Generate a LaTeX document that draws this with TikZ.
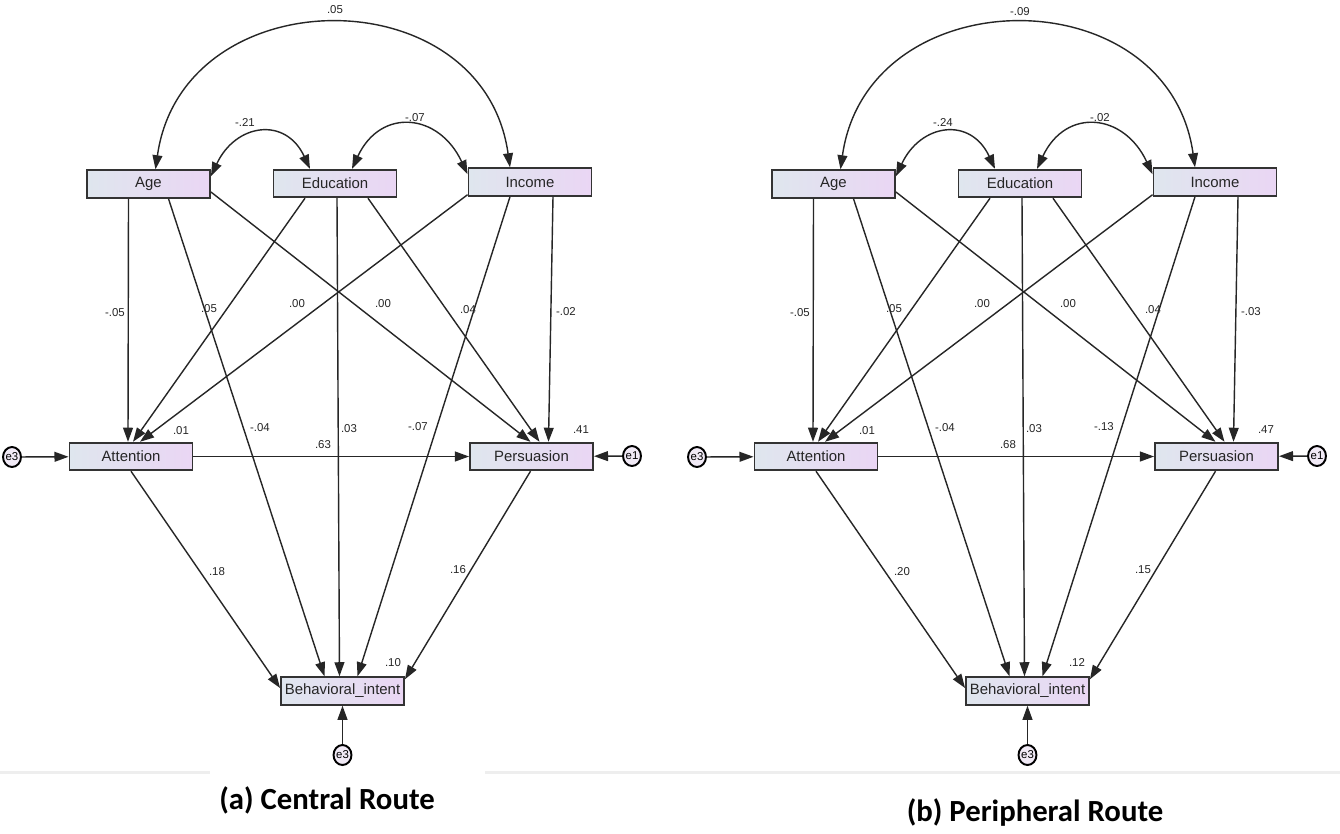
\documentclass[tikz,border=0pt]{standalone}
\usepackage{fontspec}
\setmainfont{Liberation Sans}
\newfontfamily\capfont{Carlito}
\usetikzlibrary{arrows.meta,shapes.geometric}
\definecolor{boxL}{HTML}{DFE6EE}
\definecolor{boxR}{HTML}{EAD6F4}
\definecolor{sepgray}{HTML}{EEEEEE}
\definecolor{errfill}{HTML}{F1EAF6}
\tikzset{
 var/.style={draw=black!80, line width=1.1pt, left color=boxL, right color=boxR,
   minimum width=2.46cm, minimum height=0.55cm, inner sep=0pt,
   font=\fontsize{8.5}{9}\selectfont, text=black!85},
 err/.style={ellipse, draw=black, line width=1.1pt, fill=errfill, minimum width=0.34cm,
   minimum height=0.4cm, inner sep=0pt, font=\fontsize{6.5}{7}\selectfont},
 arr/.style={line width=0.8pt, draw=black!85, -{Triangle[length=8pt,width=5.6pt]}},
 cov/.style={line width=0.8pt, draw=black!85,
   {Triangle[length=8pt,width=5.6pt]}-{Triangle[length=8pt,width=5.6pt]}},
 lbl/.style={font=\fontsize{6.5}{7}\selectfont, inner sep=0pt, text=black!85},
 captext/.style={font=\capfont\bfseries\fontsize{17.5}{20}\selectfont, inner sep=0pt},
}
\newcommand\semmodel[3]{% #1 prefix, #2 x offset, #3 name of right error
\begin{scope}[shift={(#2,0)}]
 \node[var] (#1-age) at (148.5,-184) {Age};
 \node[var] (#1-edu) at (335,-183.5) {Education};
 \node[var] (#1-inc) at (530,-182) {Income};
 \node[var] (#1-att) at (131,-456.5) {Attention};
 \node[var] (#1-per) at (531.5,-456.5) {Persuasion};
 \node[var] (#1-beh) at (342.5,-691) {Behavioral\_intent};
 \node[err] (#1-ea) at (12,-457) {e3};
 \node[err] (#1-eb) at (632,-456) {#3};
 \node[err] (#1-ec) at (342.5,-755) {e3};
 \draw[arr] ([shift={(-20,0)}]#1-age.south) -- ([shift={(-3,0)}]#1-att.north);
 \draw[arr] ([shift={(20,0)}]#1-age.south) -- ([shift={(-18,0)}]#1-beh.north);
 \draw[arr] ([shift={(0,-8)}]#1-age.east) -- ([shift={(-1,0)}]#1-per.north);
 \draw[arr] ([shift={(-30,0)}]#1-edu.south) -- ([shift={(2,0)}]#1-att.north);
 \draw[arr] ([shift={(2,0)}]#1-edu.south) -- ([shift={(-3,0)}]#1-beh.north);
 \draw[arr] ([shift={(33,0)}]#1-edu.south) -- ([shift={(8,0)}]#1-per.north);
 \draw[arr] ([shift={(0,2)}]#1-inc.south west) -- ([shift={(9,0)}]#1-att.north);
 \draw[arr] ([shift={(-20,0)}]#1-inc.south) -- ([shift={(15,0)}]#1-beh.north);
 \draw[arr] ([shift={(23,0)}]#1-inc.south) -- ([shift={(17,0)}]#1-per.north);
 \draw[arr] (#1-att) -- (#1-per);
 \draw[arr] (#1-att.south) -- ([shift={(0,3)}]#1-beh.west);
 \draw[arr] ([shift={(-1,0)}]#1-per.south) -- ([shift={(0,-3)}]#1-beh.north east);
 \draw[arr] (#1-ea) -- (#1-att);
 \draw[arr] (#1-eb) -- (#1-per);
 \draw[arr] (#1-ec) -- (#1-beh);
 \draw[cov] ([shift={(7,0)}]#1-age.north) to[out=82,in=98,looseness=1.4] ([shift={(-20,0)}]#1-inc.north);
 \draw[cov] ([shift={(0,-7)}]#1-age.north east) to[out=65,in=115,looseness=1.5] ([shift={(-25,0)}]#1-edu.north);
 \draw[cov] ([shift={(17,0)}]#1-edu.north) to[out=65,in=115,looseness=1.5] ([shift={(0,-7)}]#1-inc.north west);
\end{scope}}
\begin{document}
\begin{tikzpicture}[x=0.02cm,y=0.02cm]
\useasboundingbox (0,0) rectangle (1340,-833);
\fill[white] (0,0) rectangle (1340,-833);
\fill[sepgray] (0,-770.5) rectangle (210,-773.5);
\fill[sepgray] (485,-770.5) rectangle (1340,-773.5);
\semmodel{a}{0}{e1}
\semmodel{b}{685}{e1}
% labels (a)
\node[lbl] (a-l1) at (335,-10) {.05};
\node[lbl] (a-l2) at (245,-123) {-.21};
\node[lbl] (a-l3) at (415,-118) {-.07};
\node[lbl] (a-l4) at (115,-313) {-.05};
\node[lbl] (a-l5) at (209,-309) {.05};
\node[lbl] (a-l6) at (297,-304) {.00};
\node[lbl] (a-l7) at (383,-304) {.00};
\node[lbl] (a-l8) at (468,-310) {.04};
\node[lbl] (a-l9) at (566,-312) {-.02};
\node[lbl] (a-l10) at (181,-431) {.01};
\node[lbl] (a-l11) at (260,-428) {-.04};
\node[lbl] (a-l12) at (349,-429) {.03};
\node[lbl] (a-l13) at (418,-427) {-.07};
\node[lbl] (a-l14) at (323,-445) {.63};
\node[lbl] (a-l15) at (581,-430) {.41};
\node[lbl] (a-l16) at (217,-572) {.18};
\node[lbl] (a-l17) at (458,-570) {.16};
\node[lbl] (a-l18) at (393,-663) {.10};
% labels (b)
\node[lbl] (b-l1) at (1020,-12) {-.09};
\node[lbl] (b-l2) at (943,-123) {-.24};
\node[lbl] (b-l3) at (1100,-118) {-.02};
\node[lbl] (b-l4) at (800,-313) {-.05};
\node[lbl] (b-l5) at (894,-309) {.05};
\node[lbl] (b-l6) at (982,-304) {.00};
\node[lbl] (b-l7) at (1068,-304) {.00};
\node[lbl] (b-l8) at (1153,-310) {.04};
\node[lbl] (b-l9) at (1251,-312) {-.03};
\node[lbl] (b-l10) at (867,-431) {.01};
\node[lbl] (b-l11) at (945,-428) {-.04};
\node[lbl] (b-l12) at (1034,-429) {.03};
\node[lbl] (b-l13) at (1104,-427) {-.13};
\node[lbl] (b-l14) at (1008,-445) {.68};
\node[lbl] (b-l15) at (1266,-430) {.47};
\node[lbl] (b-l16) at (902,-572) {.20};
\node[lbl] (b-l17) at (1143,-570) {.15};
\node[lbl] (b-l18) at (1077,-663) {.12};
% captions
\node[captext] (capa) at (327,-800) {(a) Central Route};
\node[captext] (capb) at (1035,-812) {(b) Peripheral Route};
\end{tikzpicture}
\end{document}
